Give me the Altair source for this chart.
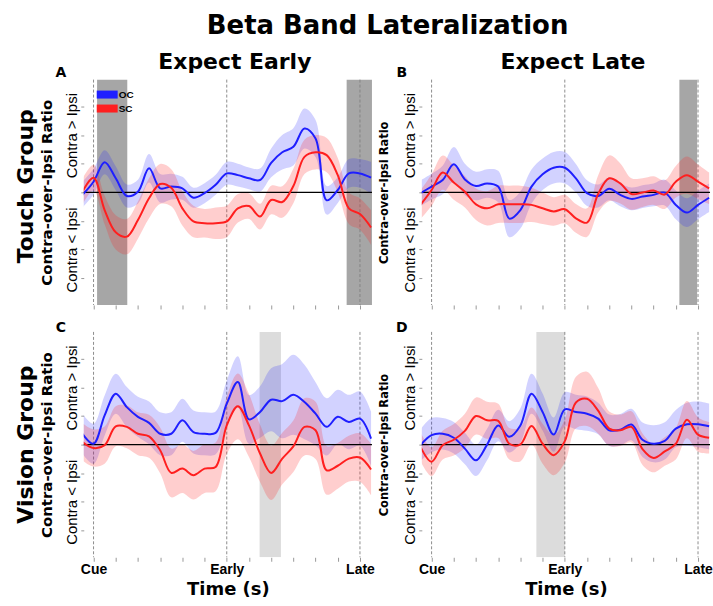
import altair as alt
import pandas as pd

# sample times (s); Cue = 0, Early = 1.5, Late = 3.0
TIME = [-0.125, 0.0, 0.125, 0.25, 0.375, 0.5, 0.625, 0.75, 0.875, 1.0, 1.125, 1.25, 1.375,
        1.5, 1.625, 1.75, 1.875, 2.0, 2.125, 2.25, 2.375, 2.5, 2.625, 2.75, 2.875, 3.0, 3.125]

# Panel A: Touch group, Expect Early
A_OC = [-0.09, 0.37, 1.05, 0.49, -0.13, 0.02, 0.84, 0.14, 0.20, 0.14, -0.19, -0.03, 0.26,
        0.66, 0.60, 0.49, 0.43, 1.03, 1.40, 1.59, 2.23, 1.88, -0.28, 0.08, 0.66, 0.66, 0.51]
A_OC_SEM = [0.45, 0.45, 0.42, 0.42, 0.40, 0.42, 0.50, 0.50, 0.45, 0.40, 0.35, 0.35, 0.35,
            0.40, 0.40, 0.38, 0.40, 0.50, 0.60, 0.65, 0.70, 0.65, 0.50, 0.45, 0.50, 0.50, 0.55]
A_SC = [0.02, 0.51, -0.62, -1.40, -1.55, -0.97, -0.21, 0.29, 0.16, -0.56, -1.02, -1.08, -1.08,
        -1.02, -0.56, -0.48, -0.85, -0.27, -0.34, 0.22, 1.24, 1.40, 1.30, 0.60, -0.56, -0.76, -1.23]
A_SC_SEM = [0.45, 0.45, 0.50, 0.60, 0.62, 0.65, 0.70, 0.70, 0.65, 0.60, 0.55, 0.50, 0.55,
            0.55, 0.50, 0.45, 0.45, 0.50, 0.55, 0.60, 0.60, 0.60, 0.60, 0.60, 0.55, 0.55, 0.60]

# Panel B: Touch group, Expect Late
B_OC = [-0.03, 0.20, 0.43, 0.98, 0.45, 0.22, 0.31, 0.20, -0.92, -0.62, 0.20, 0.63, 0.86,
        0.86, 0.49, -0.03, -0.13, 0.12, -0.09, -0.23, -0.15, -0.09, -0.01, -0.44, -0.71, -0.44, -0.19]
B_OC_SEM = [0.45, 0.45, 0.50, 0.60, 0.55, 0.50, 0.50, 0.55, 0.65, 0.65, 0.60, 0.55, 0.55,
            0.55, 0.50, 0.45, 0.40, 0.40, 0.40, 0.40, 0.40, 0.40, 0.45, 0.50, 0.50, 0.50, 0.50]
B_SC = [-0.44, 0.08, 0.69, 0.34, 0.02, -0.42, -0.56, -0.42, -0.42, -0.42, -0.44, -0.56, -0.67,
        -0.59, -0.91, -1.06, -0.06, 0.49, 0.31, -0.06, -0.01, 0.06, -0.08, 0.37, 0.60, 0.37, 0.14]
B_SC_SEM = [0.50, 0.55, 0.60, 0.60, 0.55, 0.55, 0.60, 0.65, 0.65, 0.65, 0.60, 0.55, 0.50,
            0.50, 0.50, 0.50, 0.65, 0.80, 0.70, 0.55, 0.50, 0.50, 0.50, 0.55, 0.65, 0.60, 0.55]

# Panel C: Vision group, Expect Early
C_OC = [0.38, 0.03, 1.02, 1.78, 1.31, 0.97, 0.76, 0.38, 0.38, 0.85, 0.44, 0.38, 0.41,
        1.43, 2.19, 0.88, 1.14, 1.57, 1.52, 1.74, 1.49, 1.08, 0.62, 0.97, 0.79, 0.91, 0.21]
C_OC_SEM = [0.70, 0.70, 0.70, 0.70, 0.70, 0.70, 0.75, 0.75, 0.75, 0.75, 0.75, 0.75, 0.75,
            0.80, 0.90, 0.85, 0.90, 1.10, 1.30, 1.40, 1.30, 1.10, 1.00, 0.95, 0.95, 0.95, 0.95]
C_SC = [0.09, -0.12, -0.02, 0.64, 0.62, 0.38, 0.29, -0.20, -0.99, -0.84, -1.07, -0.84, -0.78,
        0.67, 1.34, 0.67, -0.31, -0.99, -0.49, -0.06, 0.62, 0.50, -0.90, -0.74, -0.49, -0.45, -0.87]
C_SC_SEM = [0.65, 0.65, 0.65, 0.70, 0.75, 0.75, 0.75, 0.80, 0.85, 0.85, 0.85, 0.85, 0.85,
            1.00, 1.15, 1.10, 1.00, 0.95, 0.90, 0.90, 1.00, 1.00, 0.85, 0.80, 0.80, 0.85, 0.90]

# Panel D: Vision group, Expect Late
D_OC = [-0.02, 0.33, 0.38, 0.24, -0.14, -0.55, 0.00, 0.67, 0.27, 0.67, 1.78, 1.14, 0.35,
        1.23, 1.14, 1.08, 0.91, 0.50, 0.52, 0.70, 0.17, 0.03, 0.13, 0.56, 0.71, 0.71, 0.64]
D_OC_SEM = [0.55, 0.60, 0.55, 0.55, 0.55, 0.55, 0.55, 0.55, 0.55, 0.60, 0.70, 0.65, 0.60,
            0.60, 0.60, 0.60, 0.55, 0.55, 0.55, 0.55, 0.60, 0.65, 0.65, 0.65, 0.75, 0.80, 0.80]
D_SC = [-0.08, -0.60, -0.02, 0.17, 0.48, 1.00, 0.85, 0.83, 0.03, 0.01, 0.65, 0.03, -0.37,
        0.12, 1.47, 1.60, 1.19, 0.56, 0.50, 0.62, -0.16, -0.47, -0.24, 0.03, 0.87, 0.35, 0.24]
D_SC_SEM = [0.50, 0.50, 0.50, 0.55, 0.60, 0.65, 0.65, 0.60, 0.55, 0.60, 0.65, 0.70, 0.70,
            0.75, 0.90, 0.95, 0.80, 0.60, 0.55, 0.55, 0.55, 0.50, 0.50, 0.55, 0.65, 0.60, 0.55]

# shaded windows (s)
A_SHADE_START = [0.04, 2.85]
A_SHADE_END = [0.38, 3.14]
B_SHADE_START = [2.79]
B_SHADE_END = [2.99]
C_SHADE_START = [1.87]
C_SHADE_END = [2.11]
D_SHADE_START = [1.18]
D_SHADE_END = [1.50]

EVENT_TIMES = [0.0, 1.5, 3.0]
X_TICKS = [0, 0.25, 0.5, 0.75, 1.0, 1.25, 1.5, 1.75, 2.0, 2.25, 2.5, 2.75, 3.0]
Y_TICKS = [-3, -2, -1, 0, 1, 2, 3]
X_DOMAIN = [-0.11, 3.135]
Y_DOMAIN = [-3.94, 3.94]

SERIES = ["OC", "SC"]
BLUE = "#1f1fff"
RED = "#ff1f1f"
DARK_GRAY = "#a6a6a6"
LIGHT_GRAY = "#dcdcdc"
INTERP = "catmull-rom"

W, H = 289, 226


def series_df(mean, sem):
    return pd.DataFrame({
        "t": TIME,
        "m": mean,
        "lo": [m - s for m, s in zip(mean, sem)],
        "hi": [m + s for m, s in zip(mean, sem)],
    })


def panel(oc, oc_sem, sc, sc_sem, s0, s1, shade_color, letter, left, bottom,
          title=None, row_label=None, legend=False):
    xaxis_kw = dict(values=X_TICKS, domain=False, grid=False, tickColor="#999999",
                    tickSize=4, labelFlush=False, labelOverlap=False,
                    labelFont="Liberation Sans", labelFontWeight="bold",
                    labelFontSize=14, labelColor="black", labelPadding=1,
                    labelExpr="datum.value == 0 ? 'Cue' : datum.value == 1.5 ? 'Early' : datum.value == 3 ? 'Late' : ''",
                    titleFont="DejaVu Sans", titleFontWeight="bold", titleFontSize=18,
                    titleColor="black", titlePadding=4)
    if not bottom:
        xaxis_kw["labels"] = False
    xaxis = alt.Axis(**xaxis_kw)
    xtitle = "Time (s)" if bottom else None

    yaxis = alt.Axis(values=Y_TICKS, domain=False, grid=False, tickColor="#999999",
                     tickSize=3, labelOverlap=False, labelAngle=270,
                     labelAlign="center", labelBaseline="bottom", labelPadding=1,
                     labelFont="Liberation Sans", labelFontSize=15, labelColor="black",
                     labelExpr="datum.value == 2 ? 'Contra > Ipsi' : datum.value == -2 ? 'Contra < Ipsi' : ''",
                     titleFont="DejaVu Sans", titleFontWeight="bold",
                     titleFontSize=15 if left else 11.5, titleColor="black",
                     titlePadding=10 if left else 13)

    xs = alt.Scale(domain=X_DOMAIN, nice=False, zero=False)
    ys = alt.Scale(domain=Y_DOMAIN, nice=False, zero=False)

    def X(f):
        return alt.X(f, type="quantitative", scale=xs, axis=xaxis, title=xtitle)

    def Y(f):
        return alt.Y(f, type="quantitative", scale=ys, axis=yaxis,
                     title="Contra-over-Ipsi Ratio")

    oc_df = series_df(oc, oc_sem)
    sc_df = series_df(sc, sc_sem)

    layers = []
    layers.append(alt.Chart(pd.DataFrame({"t0": s0, "t1": s1})).mark_rect(
        color=shade_color, clip=True).encode(
        x=X("t0"), x2="t1", y=alt.value(0), y2=alt.value(H)))
    layers.append(alt.Chart(pd.DataFrame({"t": EVENT_TIMES})).mark_rule(
        color="#808080", strokeDash=[3, 2], strokeWidth=0.9).encode(x=X("t")))
    layers.append(alt.Chart(oc_df).mark_area(color=BLUE, opacity=0.2, interpolate=INTERP,
                                             clip=True).encode(x=X("t"), y=Y("lo"), y2="hi"))
    layers.append(alt.Chart(sc_df).mark_area(color=RED, opacity=0.22, interpolate=INTERP,
                                             clip=True).encode(x=X("t"), y=Y("lo"), y2="hi"))
    layers.append(alt.Chart(pd.DataFrame({"v": [0]})).mark_rule(
        color="black", strokeWidth=1.3).encode(y=Y("v")))
    layers.append(alt.Chart(oc_df).mark_line(color=BLUE, strokeWidth=2, interpolate=INTERP,
                                             clip=True).encode(x=X("t"), y=Y("m")))
    layers.append(alt.Chart(sc_df).mark_line(color=RED, strokeWidth=2, interpolate=INTERP,
                                             clip=True).encode(x=X("t"), y=Y("m")))
    layers.append(alt.Chart(pd.DataFrame({"s": [letter]})).mark_text(
        font="DejaVu Sans", fontWeight="bold", fontSize=14, align="center",
        baseline="middle", color="black").encode(
        x=alt.value(-23 if left else -20), y=alt.value(-7 if not bottom else -4),
        text="s:N"))
    if row_label:
        layers.append(alt.Chart(pd.DataFrame({"s": [row_label]})).mark_text(
            font="DejaVu Sans", fontWeight="bold", fontSize=22, align="center",
            baseline="middle", angle=270, color="black").encode(
            x=alt.value(-58), y=alt.value(H / 2 - (6 if not bottom else 0)), text="s:N"))
    if legend:
        for i, (name, col) in enumerate(zip(SERIES, [BLUE, RED])):
            d = pd.DataFrame({"s": [name]})
            layers.append(alt.Chart(d).mark_rect(color=col).encode(
                x=alt.value(13), x2=alt.value(34),
                y=alt.value(11 + 14 * i), y2=alt.value(19 + 14 * i)))
            layers.append(alt.Chart(d).mark_text(
                font="Liberation Sans", fontWeight="bold", fontSize=10, align="left",
                baseline="middle", color="black").encode(
                x=alt.value(35), y=alt.value(15 + 14 * i), text="s:N"))

    props = dict(width=W, height=H)
    if title:
        props["title"] = alt.TitleParams(text=title, font="DejaVu Sans", fontWeight="bold",
                                         fontSize=22, color="black", offset=-8, dx=7)
    return alt.layer(*layers).properties(**props)


A = panel(A_OC, A_OC_SEM, A_SC, A_SC_SEM, A_SHADE_START, A_SHADE_END, DARK_GRAY,
          "A", True, False, title="Expect Early", row_label="Touch Group", legend=True)
B = panel(B_OC, B_OC_SEM, B_SC, B_SC_SEM, B_SHADE_START, B_SHADE_END, DARK_GRAY,
          "B", False, False, title="Expect Late")
C = panel(C_OC, C_OC_SEM, C_SC, C_SC_SEM, C_SHADE_START, C_SHADE_END, LIGHT_GRAY,
          "C", True, True, row_label="Vision Group")
D = panel(D_OC, D_OC_SEM, D_SC, D_SC_SEM, D_SHADE_START, D_SHADE_END, LIGHT_GRAY,
          "D", False, True)

chart = alt.concat(A, B, C, D, columns=2, spacing={"row": 27, "column": 50},
                   bounds="flush").properties(
    title=alt.TitleParams(text="Beta Band Lateralization", font="DejaVu Sans",
                          fontWeight="bold", fontSize=26, color="black",
                          anchor="middle", offset=12, dx=24),
    padding={"left": 15, "top": 12, "right": 0, "bottom": 0},
).configure_view(stroke=None)

chart.save("out.html", embed_options={"renderer": "svg", "actions": False})
